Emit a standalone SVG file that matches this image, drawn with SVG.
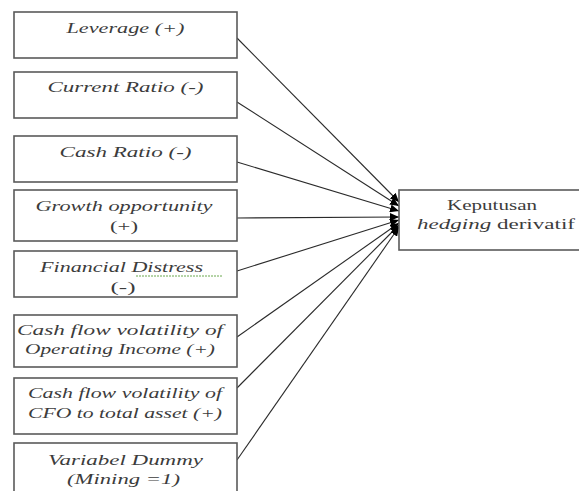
<svg xmlns="http://www.w3.org/2000/svg" width="579" height="491" viewBox="0 0 579 491">
<style>
.box{fill:#fff;stroke:#5a5a5a;stroke-width:1.6}
.t{font-family:"Liberation Serif","Times New Roman",serif;font-size:15.5px;fill:#3c3c3c;text-anchor:middle}
.i{font-style:italic}
.c{stroke:#2a2a2a;stroke-width:1.1;fill:none;marker-end:url(#ah)}
</style>
<defs>
<marker id="ah" markerUnits="userSpaceOnUse" markerWidth="10" markerHeight="8" refX="9" refY="4" orient="auto">
<path d="M0,0 L9,4 L0,8 Z" fill="#000"/>
</marker>
</defs>
<rect width="579" height="491" fill="#fff"/>
<g id="connectors">
<line class="c" x1="237" y1="38" x2="399" y2="202"/>
<line class="c" x1="237" y1="102" x2="399" y2="206"/>
<line class="c" x1="237" y1="162" x2="399" y2="211"/>
<line class="c" x1="237" y1="218" x2="399" y2="217"/>
<line class="c" x1="237" y1="271" x2="399" y2="220"/>
<line class="c" x1="237" y1="337" x2="399" y2="223"/>
<line class="c" x1="237" y1="388" x2="399" y2="225"/>
<line class="c" x1="237" y1="460" x2="399" y2="227"/>
</g>
<g id="n1"><rect class="box" x="14" y="12" width="223" height="46"/>
<text class="t i" x="125.5" y="33" textLength="118" lengthAdjust="spacingAndGlyphs">Leverage (+)</text></g>
<g id="n2"><rect class="box" x="14" y="72" width="223" height="46"/>
<text class="t i" x="125.5" y="92" textLength="156" lengthAdjust="spacingAndGlyphs">Current Ratio (-)</text></g>
<g id="n3"><rect class="box" x="14" y="136" width="223" height="46"/>
<text class="t i" x="125.5" y="157" textLength="132" lengthAdjust="spacingAndGlyphs">Cash Ratio (-)</text></g>
<g id="n4"><rect class="box" x="14" y="190" width="223" height="51"/>
<text class="t i" x="124" y="211" textLength="177" lengthAdjust="spacingAndGlyphs">Growth opportunity</text>
<text class="t" x="124" y="231" textLength="28" lengthAdjust="spacingAndGlyphs">(+)</text></g>
<g id="n5"><rect class="box" x="14" y="251" width="223" height="46"/>
<text class="t i" x="121.5" y="272" textLength="163" lengthAdjust="spacingAndGlyphs">Financial Distress</text>
<line x1="136" y1="276" x2="222" y2="276" stroke="#6aa84f" stroke-width="1" stroke-dasharray="2,1"/>
<text class="t" x="123" y="292" textLength="25" lengthAdjust="spacingAndGlyphs">(-)</text></g>
<g id="n6"><rect class="box" x="14" y="315" width="223" height="52"/>
<text class="t i" x="120" y="335" textLength="206" lengthAdjust="spacingAndGlyphs">Cash flow volatility of</text>
<text class="t i" x="120" y="354" textLength="190" lengthAdjust="spacingAndGlyphs">Operating Income (+)</text></g>
<g id="n7"><rect class="box" x="14" y="378" width="223" height="56"/>
<text class="t i" x="125" y="398" textLength="194" lengthAdjust="spacingAndGlyphs">Cash flow volatility of</text>
<text class="t i" x="125" y="418" textLength="194" lengthAdjust="spacingAndGlyphs">CFO to total asset (+)</text></g>
<g id="n8"><rect class="box" x="14" y="443" width="223" height="60"/>
<text class="t i" x="125.5" y="465" textLength="155" lengthAdjust="spacingAndGlyphs">Variabel Dummy</text>
<text class="t i" x="123.5" y="484" textLength="113" lengthAdjust="spacingAndGlyphs">(Mining =1)</text></g>
<g id="target"><rect class="box" x="399" y="190" width="190" height="60"/>
<text class="t" x="492" y="210" textLength="90" lengthAdjust="spacingAndGlyphs">Keputusan</text>
<text class="t" x="496" y="229" textLength="158" lengthAdjust="spacingAndGlyphs"><tspan class="i">hedging</tspan> derivatif</text></g>
</svg>
